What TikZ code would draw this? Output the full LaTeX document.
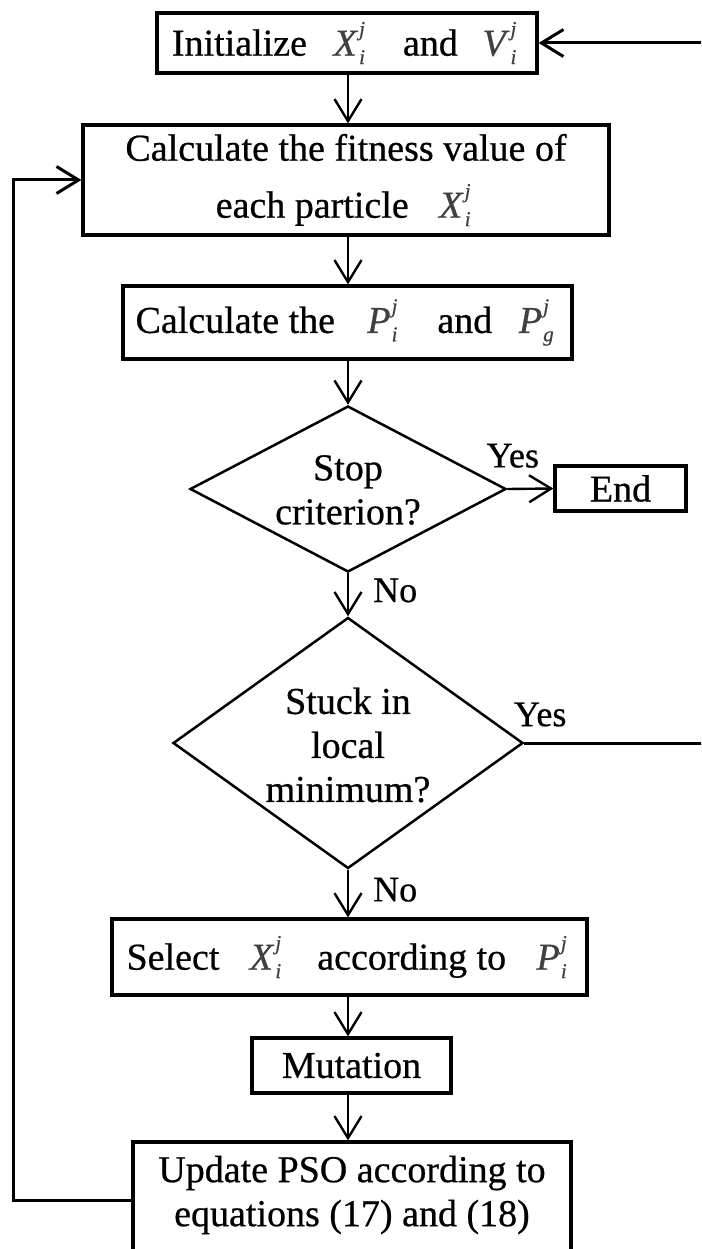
\documentclass[tikz,border=0pt]{standalone}
\usepackage{fontspec}
\setmainfont{Liberation Serif}[FakeBold=0.6]
\usetikzlibrary{shapes.geometric,arrows.meta}
\definecolor{mathgray}{gray}{0.25}
\newcommand{\sv}[3]{{\color{mathgray}\textit{#1}\kern0.03em\makebox[0pt][l]{\raisebox{0.52em}{\fontsize{21}{21}\selectfont\itshape #3}}\raisebox{-0.22em}{\fontsize{21}{21}\selectfont\itshape #2}\kern0.15em}}
\tikzset{
  box/.style={draw, line width=3.2pt, rectangle, inner sep=0pt, align=center, font=\fontsize{38}{44}\selectfont},
  dia/.style={draw, line width=2.5pt, diamond, inner sep=0pt},
  txt/.style={align=center, inner sep=0pt, font=\fontsize{38}{44}\selectfont},
  lbl/.style={inner sep=0pt, font=\fontsize{36}{40}\selectfont},
  arr/.style={line width=2.4pt, -{Straight Barb[length=22pt,width=27pt]}},
  looparr/.style={line width=3pt, -{Straight Barb[length=22pt,width=27pt]}}
}
\begin{document}
\begin{tikzpicture}[x=1pt,y=-1pt]
\useasboundingbox (0,0) rectangle (701,1249);
\clip (0,0) rectangle (701,1249);
\fill[white] (0,0) rectangle (701,1249);

\node[box, minimum width=380pt, minimum height=60pt] (init) at (347,43)
  {Initialize\hspace{0.7em}\sv{X}{i}{j}\hspace{0.85em}and\hspace{0.65em}\sv{V}{i}{j}};
\node[box, minimum width=526pt, minimum height=110pt, font=\fontsize{38}{57}\selectfont] (fit) at (346,180)
  {Calculate the fitness value of\\ each particle\hspace{0.8em}\sv{X}{i}{j}};
\node[box, minimum width=449pt, minimum height=73pt] (pb) at (347.5,322.5)
  {Calculate the\hspace{0.85em}\sv{P}{i}{j}\hspace{0.9em}and\hspace{0.7em}\sv{P}{g}{j}};

\node[dia, minimum width=316pt, minimum height=166pt] (stop) at (348,489) {};
\node[txt] (stoptxt) at (348,490) {Stop\\criterion?};
\node[box, minimum width=131pt, minimum height=45pt] (end) at (620.5,488.5) {End};

\node[dia, minimum width=350pt, minimum height=251pt] (stuck) at (348,743) {};
\node[txt] (stucktxt) at (348,745) {Stuck in\\local\\minimum?};

\node[box, minimum width=475pt, minimum height=76pt] (sel) at (349.5,957)
  {Select\hspace{0.8em}\sv{X}{i}{j}\hspace{0.8em}according to\hspace{0.8em}\sv{P}{i}{j}};
\node[box, minimum width=199pt, minimum height=55pt] (mut) at (351.5,1065.5) {Mutation};
\node[box, minimum width=438pt, minimum height=116pt] (upd) at (352,1200) {};
\node[txt] (updtxt) at (352,1195) {Update PSO according to\\equations (17) and (18)};

\draw[arr] (init.south -| stop.north) -- (fit.north -| stop.north);
\draw[arr] (fit.south -| stop.north) -- (pb.north -| stop.north);
\draw[arr] (pb.south -| stop.north) -- (stop.north);
\draw[arr] (stop.south) -- node[lbl, right=24pt, pos=0.4] (no1) {No} (stuck.north);
\draw[arr] (stop.east) -- node[lbl, above=20pt, pos=0.12] (yes1) {Yes} (end.west);
\draw[arr] (stuck.south) -- node[lbl, right=24pt, pos=0.42] (no2) {No} (sel.north -| stuck.south);
\draw[arr] (sel.south -| stop.north) -- (mut.north -| stop.north);
\draw[arr] (mut.south -| stop.north) -- (upd.north -| stop.north);

\coordinate (rbot) at (712,743);
\coordinate (rtop) at (712,43);
\draw[looparr] (stuck.east) -- node[lbl, above=15pt, pos=0.085] (yes2) {Yes} (rbot) -- (rtop) -- (init.east);

\coordinate (ltop) at (13,180);
\draw[looparr] (upd.west) -- (upd.west -| ltop) -- (ltop) -- (fit.west);
\end{tikzpicture}
\end{document}
